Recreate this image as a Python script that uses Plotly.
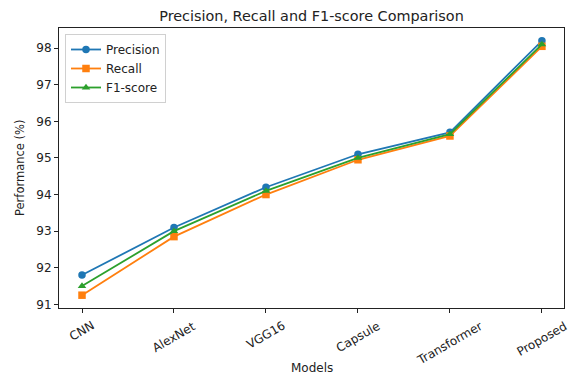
import plotly.graph_objects as go

models = ["CNN", "AlexNet", "VGG16", "Capsule", "Transformer", "Proposed"]
precision = [91.8, 93.1, 94.2, 95.1, 95.7, 98.2]
recall = [91.25, 92.85, 94.0, 94.95, 95.6, 98.05]
f1 = [91.5, 93.0, 94.1, 95.0, 95.65, 98.1]

W, H = 570, 375
L, R, T, B = 59, 6, 28, 67
ph = H - T - B

fig = go.Figure()
series = [("Precision", precision, "#1f77b4", "circle"),
          ("Recall", recall, "#ff7f0e", "square"),
          ("F1-score", f1, "#2ca02c", "triangle-up")]
for name, vals, col, sym in series:
    fig.add_trace(go.Scatter(x=list(range(len(models))), y=vals, name=name, mode="lines+markers",
                             line=dict(color=col, width=1.8),
                             marker=dict(color=col, symbol=sym, size=7.5)))

# x tick labels centred on ticks (rotated 30 deg)
annotations = []
for i, m in enumerate(models):
    annotations.append(dict(x=i, xref="x", y=-8 / ph, yref="paper", text=m, showarrow=False,
                            textangle=-30, xanchor="center", yanchor="top",
                            font=dict(size=12, color="#222")))
annotations.append(dict(x=0.5, xref="paper", y=-(368 - (H - B)) / ph, yref="paper", text="Models",
                        showarrow=False, xanchor="center", yanchor="middle",
                        font=dict(size=12, color="#222")))
annotations.append(dict(x=-(L - 20) / (W - L - R), xref="paper", y=0.5, yref="paper",
                        text="Performance (%)", textangle=-90, showarrow=False,
                        xanchor="center", yanchor="middle", font=dict(size=11.5, color="#222")))

fig.update_layout(
    width=W, height=H,
    margin=dict(l=L, r=R, t=T, b=B),
    paper_bgcolor="white", plot_bgcolor="white",
    font=dict(family="DejaVu Sans", size=12, color="#222"),
    title=dict(text="Precision, Recall and F1-score Comparison", x=(L + (W - L - R) / 2) / W,
               xanchor="center", y=1 - 16 / H, yanchor="middle", font=dict(size=14.4)),
    legend=dict(x=6 / (W - L - R), y=1 - 6 / ph, xanchor="left", yanchor="top",
                bordercolor="#d0d0d0", borderwidth=1, bgcolor="rgba(255,255,255,0.85)",
                font=dict(size=12), tracegroupgap=0, itemwidth=30),
    annotations=annotations,
    xaxis=dict(tickmode="array", tickvals=list(range(len(models))), showticklabels=False,
               range=[-0.25, 5.24], showgrid=False, zeroline=False, automargin=False,
               showline=True, linecolor="#222", linewidth=1, mirror=True,
               ticks="outside", ticklen=4, tickcolor="#222"),
    yaxis=dict(range=[90.9, 98.55], dtick=1, showgrid=False, zeroline=False, automargin=False,
               showline=True, linecolor="#222", linewidth=1, mirror=True,
               ticks="outside", ticklen=4, tickcolor="#222", tickfont=dict(size=12)),
)
fig.write_html("out.html", config={"displayModeBar": False},
               post_script="document.body.style.margin='0';document.body.style.overflow='hidden';")
